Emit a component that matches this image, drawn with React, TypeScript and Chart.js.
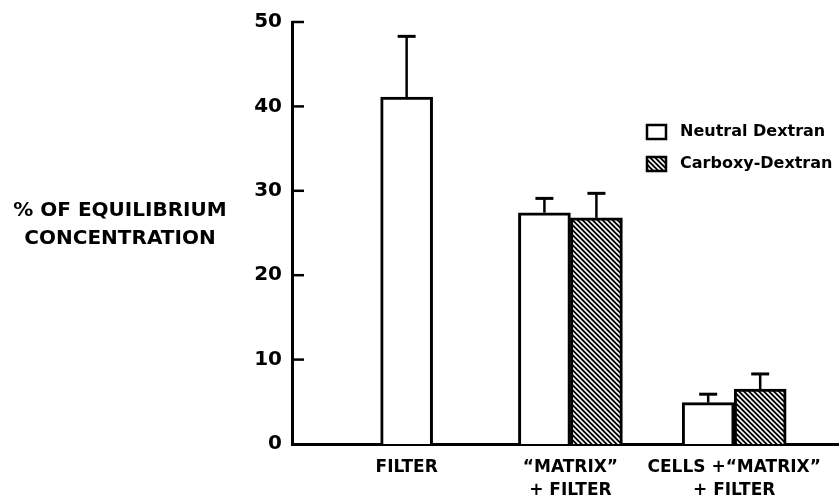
import React, { useEffect, useRef } from 'react';
import { Chart, registerables } from 'chart.js';

Chart.register(...registerables);

const categories: string[][] = [
  ['FILTER'],
  ['\u201CMATRIX\u201D', '+ FILTER'],
  ['CELLS +\u201CMATRIX\u201D', '+ FILTER'],
];
const seriesLabels = ['Neutral Dextran', 'Carboxy-Dextran'];
const neutralValues: (number | null)[] = [41.1, 27.4, 4.9];
const neutralErrors: (number | null)[] = [7.2, 1.7, 1.0];
const carboxyValues: (number | null)[] = [null, 26.8, 6.5];
const carboxyErrors: (number | null)[] = [null, 2.9, 1.8];
const yTicks = [0, 10, 20, 30, 40, 50];
const yAxisLabel = ['% OF EQUILIBRIUM', 'CONCENTRATION'];

const FONT = '"DejaVu Sans", "Liberation Sans", sans-serif';

function makeHatch(): CanvasPattern | string {
  const c = document.createElement('canvas');
  const s = 5;
  c.width = s;
  c.height = s;
  const g = c.getContext('2d');
  if (!g) return '#000';
  g.fillStyle = '#000';
  g.fillRect(0, 0, s, s);
  g.strokeStyle = '#fff';
  g.lineWidth = 1.6;
  g.beginPath();
  g.moveTo(-1, -1);
  g.lineTo(s + 1, s + 1);
  g.moveTo(-1 - s, -1);
  g.lineTo(1, s + 1);
  g.moveTo(s - 1, -1);
  g.lineTo(2 * s + 1, s + 1);
  g.stroke();
  const p = g.createPattern(c, 'repeat');
  return p || '#000';
}

export default function App() {
  const ref = useRef<HTMLCanvasElement | null>(null);

  useEffect(() => {
    if (!ref.current) return;
    const hatch = makeHatch();
    const errorSets = [neutralErrors, carboxyErrors];

    const errorBarPlugin = {
      id: 'errorBars',
      afterDatasetsDraw(chart: any) {
        const ctx = chart.ctx;
        const ys = chart.scales.y;
        chart.data.datasets.forEach((ds: any, di: number) => {
          const meta = chart.getDatasetMeta(di);
          const errs = errorSets[di];
          meta.data.forEach((bar: any, i: number) => {
            const v = ds.data[i].y;
            const e = errs[i];
            if (v == null || e == null) return;
            const top = ys.getPixelForValue(v + e);
            ctx.save();
            ctx.strokeStyle = '#000';
            ctx.lineWidth = 2.5;
            ctx.beginPath();
            ctx.moveTo(bar.x, bar.y);
            ctx.lineTo(bar.x, top);
            ctx.stroke();
            ctx.lineWidth = 3;
            ctx.beginPath();
            ctx.moveTo(bar.x - 9, top);
            ctx.lineTo(bar.x + 9, top);
            ctx.stroke();
            ctx.restore();
          });
        });
      },
    };

    const innerTicksPlugin = {
      id: 'innerTicks',
      afterDraw(chart: any) {
        const ctx = chart.ctx;
        const ys = chart.scales.y;
        const left = chart.chartArea.left;
        ctx.save();
        ctx.strokeStyle = '#000';
        ctx.lineWidth = 2.5;
        yTicks.forEach((t) => {
          const py = ys.getPixelForValue(t);
          if (t === 0) return;
          ctx.beginPath();
          ctx.moveTo(left, py);
          ctx.lineTo(left + 12, py);
          ctx.stroke();
        });
        ctx.restore();
      },
    };

    const yLabelPlugin = {
      id: 'yLabel',
      afterDraw(chart: any) {
        const ctx = chart.ctx;
        ctx.save();
        ctx.fillStyle = '#000';
        ctx.font = `bold 20px ${FONT}`;
        ctx.textAlign = 'center';
        ctx.textBaseline = 'middle';
        yAxisLabel.forEach((line, i) => {
          ctx.fillText(line, 120, 211 + i * 28);
        });
        ctx.restore();
      },
    };

    const legendPlugin = {
      id: 'customLegend',
      afterDraw(chart: any) {
        const ctx = chart.ctx;
        ctx.save();
        chart.data.datasets.forEach((ds: any, i: number) => {
          const cy = 132 + i * 32;
          ctx.fillStyle = ds.backgroundColor;
          ctx.fillRect(647, cy - 7, 19, 14);
          ctx.strokeStyle = '#000';
          ctx.lineWidth = 2.5;
          ctx.strokeRect(647, cy - 7, 19, 14);
          ctx.fillStyle = '#000';
          ctx.font = `bold 16px ${FONT}`;
          ctx.textAlign = 'left';
          ctx.textBaseline = 'middle';
          ctx.fillText(ds.label, 680, cy);
        });
        ctx.restore();
      },
    };

    const chart = new Chart(ref.current, {
      type: 'bar',
      data: {
        datasets: [
          {
            label: seriesLabels[0],
            data: neutralValues.map((v, i) => ({ x: i + 1, y: v })) as any,
            backgroundColor: '#fff',
            borderColor: '#000',
            borderWidth: 3,
            barThickness: 52,
            skipNull: true,
          } as any,
          {
            label: seriesLabels[1],
            data: carboxyValues.map((v, i) => ({ x: i + 1, y: v })) as any,
            backgroundColor: hatch as any,
            borderColor: '#000',
            borderWidth: 3,
            barThickness: 52,
            skipNull: true,
          } as any,
        ],
      },
      options: {
        animation: false,
        responsive: true,
        maintainAspectRatio: false,
        layout: { padding: { top: 22, left: 0, right: 0, bottom: 0 } },
        plugins: {
          legend: { display: false },
          tooltip: { enabled: false },
        },
        scales: {
          x: {
            type: 'linear',
            offset: false,
            bounds: 'data',
            min: 0.3,
            max: 3.64,
            grid: { display: false, drawTicks: false, offset: false },
            border: { display: true, color: '#000', width: 3 },
            afterBuildTicks: (s: any) => {
              s.ticks = categories.map((_, i) => ({ value: i + 1 }));
            },
            afterFit: (s: any) => {
              s.height = 60;
              s.paddingLeft = 0;
              s.paddingRight = 0;
            },
            ticks: {
              autoSkip: false,
              maxRotation: 0,
              color: '#000',
              padding: 12,
              font: { family: FONT, size: 17, weight: 'bold', lineHeight: 1.35 },
              callback: (v: any) => categories[Math.round(Number(v)) - 1] || '',
            },
          } as any,
          y: {
            min: 0,
            max: 50,
            grid: { display: false, drawTicks: false },
            border: { display: true, color: '#000', width: 3 },
            afterBuildTicks: (s: any) => {
              s.ticks = yTicks.map((t) => ({ value: t }));
            },
            afterFit: (s: any) => {
              s.width = 292;
            },
            ticks: {
              color: '#000',
              padding: 10,
              font: { family: FONT, size: 20, weight: 'bold' },
            },
          } as any,
        },
      },
      plugins: [errorBarPlugin, innerTicksPlugin, yLabelPlugin, legendPlugin],
    });

    return () => chart.destroy();
  }, []);

  return (
    <div style={{ position: 'fixed', left: 0, top: 0, width: 839, height: 504, background: '#fff' }}>
      <canvas ref={ref} />
    </div>
  );
}
